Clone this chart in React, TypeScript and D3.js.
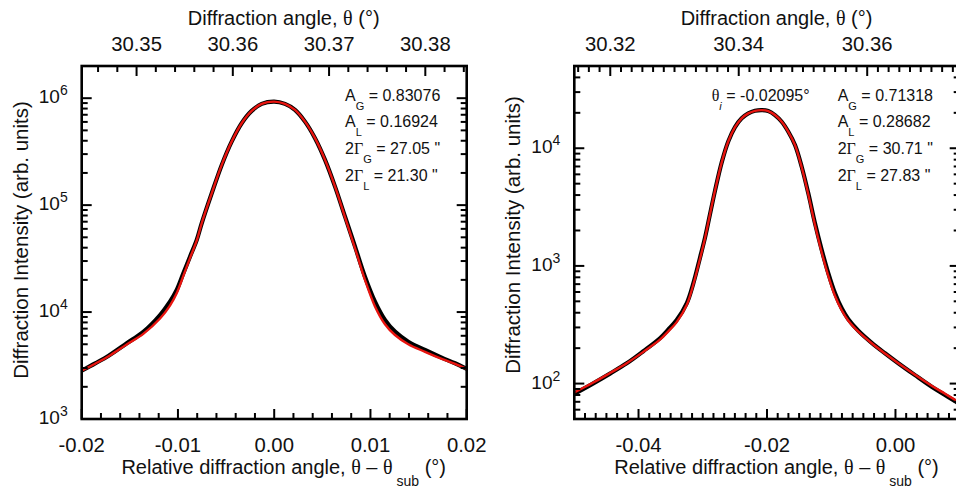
import React from 'react';
import * as d3 from 'd3';

// ---------- data ----------
const leftRel = [-0.02, -0.0186, -0.0172, -0.01532, -0.0136, -0.01186, -0.01083, -0.01013, -0.00944, -0.00875, -0.00805, -0.00753, -0.00649, -0.00545, -0.00442, -0.00338, -0.00234, -0.0013, 0.0, 0.00112, 0.00216, 0.0032, 0.00424, 0.00528, 0.00632, 0.00736, 0.0084, 0.00943, 0.01047, 0.01151, 0.01255, 0.01393, 0.01567, 0.0174, 0.01879, 0.02];
const leftMeasured = [2830, 3311, 3908, 5105, 6531, 9386, 12500, 16080, 23030, 32950, 47200, 67700, 129000, 237700, 392600, 583400, 760600, 884300, 929000, 884300, 777800, 604000, 422700, 264900, 149000, 78000, 40900, 21430, 12510, 8433, 6560, 5285, 4419, 3747, 3319, 2937];
const leftFit = [2830, 3290, 3860, 4980, 6250, 8700, 11500, 15000, 21800, 32000, 46500, 67700, 129000, 237700, 392600, 583400, 760600, 884300, 929000, 884300, 777800, 604000, 422700, 264900, 149000, 77000, 39500, 20000, 11300, 7700, 6100, 5000, 4250, 3650, 3280, 2937];

const rightRel = [-0.05, -0.04704, -0.04444, -0.04184, -0.03925, -0.03666, -0.03536, -0.03406, -0.0325, -0.03147, -0.03043, -0.02965, -0.02914, -0.02809, -0.02705, -0.02602, -0.02498, -0.02394, -0.02291, -0.02187, -0.02083, -0.0198, -0.01876, -0.01771, -0.01668, -0.01564, -0.0146, -0.01357, -0.01253, -0.01148, -0.01045, -0.00941, -0.00837, -0.00734, -0.00578, -0.0037, -0.00163, 0.00044, 0.00304, 0.00564, 0.00771, 0.00943, 0.01];
const rightMeasured = [81.8, 100.5, 121.6, 148.6, 188.4, 242.7, 288, 346.7, 480.8, 711, 1175, 1740, 2344, 4365, 7586, 11480, 15140, 17950, 19770, 20800, 21090, 20700, 19140, 16790, 13800, 10640, 6970, 4140, 2300, 1364, 865, 585, 436, 352, 281, 222, 181, 149, 118, 94, 80, 70, 67];
const rightFit = [84, 102, 123, 149, 186, 236, 278, 333, 465, 695, 1150, 1720, 2344, 4365, 7586, 11480, 15140, 17950, 19770, 20800, 21090, 20700, 19140, 16790, 13800, 10640, 6900, 4050, 2230, 1300, 820, 555, 420, 342, 276, 220, 180, 149, 119, 96, 82, 72, 69];

const leftThetaSub = 30.3643;
const rightThetaSub = 30.3644;

const leftBottomLabels = [-0.02, -0.01, 0.0, 0.01, 0.02];
const leftTopLabels = [30.35, 30.36, 30.37, 30.38];
const rightBottomLabels = [-0.04, -0.02, 0.0];
const rightTopLabels = [30.32, 30.34, 30.36];
const leftYExponents = [3, 4, 5, 6];
const rightYExponents = [2, 3, 4];

const leftNotes = [
  { pre: 'A', sub: 'G', post: ' = 0.83076', gamma: false },
  { pre: 'A', sub: 'L', post: ' = 0.16924', gamma: false },
  { pre: '2', sub: 'G', post: ' = 27.05 "', gamma: true },
  { pre: '2', sub: 'L', post: ' = 21.30 "', gamma: true },
];
const rightNotes = [
  { pre: 'A', sub: 'G', post: ' = 0.71318', gamma: false },
  { pre: 'A', sub: 'L', post: ' = 0.28682', gamma: false },
  { pre: '2', sub: 'G', post: ' = 30.71 "', gamma: true },
  { pre: '2', sub: 'L', post: ' = 27.83 "', gamma: true },
];
const rightPeakText = '= -0.02095°';

const SANS = '"Liberation Sans", Arial, sans-serif';
const SERIF = '"Liberation Serif", "Times New Roman", serif';

function linTicks(d0: number, d1: number, step: number) {
  const out: number[] = [];
  const i0 = Math.ceil(d0 / step - 1e-6);
  const i1 = Math.floor(d1 / step + 1e-6);
  for (let i = i0; i <= i1; i++) out.push(i * step);
  return out;
}

function logTicks(d0: number, d1: number) {
  const out: { v: number; major: boolean }[] = [];
  const e0 = Math.floor(Math.log10(d0));
  const e1 = Math.ceil(Math.log10(d1));
  for (let e = e0; e <= e1; e++) {
    for (let m = 1; m <= 9; m++) {
      const v = m * Math.pow(10, e);
      if (v >= d0 * 0.999 && v <= d1 * 1.001) out.push({ v, major: m === 1 });
    }
  }
  return out;
}

type PanelProps = {
  id: string;
  x0: number; x1: number; y0: number; y1: number;
  relDomain: [number, number];
  yDomain: [number, number];
  thetaSub: number;
  majorStep: number;
  minorPerMajor: number;
  bottomLabels: number[];
  topLabels: number[];
  yExponents: number[];
  rel: number[];
  measured: number[];
  fit: number[];
  notes: { pre: string; sub: string; post: string; gamma: boolean }[];
  notesX: number;
  peakText?: string;
  peakX?: number;
  yLabelX: number;
  yLabelY: number;
};

function Panel(p: PanelProps) {
  const x = d3.scaleLinear().domain(p.relDomain).range([p.x0, p.x1]);
  const xt = d3.scaleLinear().domain([p.relDomain[0] + p.thetaSub, p.relDomain[1] + p.thetaSub]).range([p.x0, p.x1]);
  const y = d3.scaleLog().domain(p.yDomain).range([p.y1, p.y0]);
  const minorStep = p.majorStep / p.minorPerMajor;
  const MAJ = 10, MIN = 6;

  const bottomTicks = linTicks(p.relDomain[0], p.relDomain[1], minorStep).map((v) => ({
    v, major: Math.abs(v / p.majorStep - Math.round(v / p.majorStep)) < 1e-4,
  }));
  const td = xt.domain();
  const topTicks = linTicks(td[0], td[1], minorStep).map((v) => ({
    v, major: Math.abs(v / p.majorStep - Math.round(v / p.majorStep)) < 1e-4,
  }));
  const yTicks = logTicks(p.yDomain[0], p.yDomain[1]);

  const line = d3.line<[number, number]>()
    .x((d) => x(d[0]))
    .y((d) => y(d[1]))
    .curve(d3.curveCatmullRom.alpha(0.5));
  const measPts = p.rel.map((r, i) => [r, p.measured[i]] as [number, number]);
  const fitPts = p.rel.map((r, i) => [r, p.fit[i]] as [number, number]);
  const cx = (p.x0 + p.x1) / 2 + 9.5;

  return (
    <g>
      <defs>
        <clipPath id={p.id}>
          <rect x={p.x0} y={p.y0} width={p.x1 - p.x0} height={p.y1 - p.y0} />
        </clipPath>
      </defs>
      <g clipPath={`url(#${p.id})`}>
        <path d={line(measPts) || ''} fill="none" stroke="#000" strokeWidth={4.2} strokeLinejoin="round" />
        <path d={line(fitPts) || ''} fill="none" stroke="#e8140f" strokeWidth={2.4} strokeLinejoin="round" />
      </g>
      <g stroke="#000" strokeWidth={2}>
        {bottomTicks.map((t, i) => (
          <line key={'b' + i} x1={x(t.v)} x2={x(t.v)} y1={p.y1} y2={p.y1 - (t.major ? MAJ : MIN)} />
        ))}
        {topTicks.map((t, i) => (
          <line key={'t' + i} x1={xt(t.v)} x2={xt(t.v)} y1={p.y0} y2={p.y0 + (t.major ? MAJ : MIN)} />
        ))}
        {yTicks.map((t, i) => (
          <g key={'y' + i}>
            <line x1={p.x0} x2={p.x0 + (t.major ? MAJ : MIN)} y1={y(t.v)} y2={y(t.v)} />
            <line x1={p.x1} x2={p.x1 - (t.major ? MAJ : MIN)} y1={y(t.v)} y2={y(t.v)} />
          </g>
        ))}
      </g>
      <rect x={p.x0} y={p.y0} width={p.x1 - p.x0} height={p.y1 - p.y0} fill="none" stroke="#000" strokeWidth={2.6} />
      <g fontFamily={SANS} fontSize={20.3} fill="#111">
        {p.bottomLabels.map((v, i) => (
          <text key={'bl' + i} x={x(v)} y={452} textAnchor="middle">{v.toFixed(2)}</text>
        ))}
        {p.topLabels.map((v, i) => (
          <text key={'tl' + i} x={xt(v)} y={50.5} textAnchor="middle">{v.toFixed(2)}</text>
        ))}
        {p.yExponents.map((e, i) => (
          <text key={'yl' + i} x={p.x0 - 14} y={y(Math.pow(10, e)) + 5} textAnchor="end" fontSize={19}>
            10<tspan dy={-8} fontSize={14}>{e}</tspan>
          </text>
        ))}
      </g>
      <text x={cx} y={25} textAnchor="middle" fontFamily={SANS} fontSize={20} fill="#111">
        Diffraction angle, <tspan fontFamily={SERIF}>θ</tspan> (°)
      </text>
      <text x={cx} y={474} textAnchor="middle" fontFamily={SANS} fontSize={20} fill="#111">
        Relative diffraction angle, <tspan fontFamily={SERIF}>θ</tspan> – <tspan fontFamily={SERIF}>θ</tspan>
        <tspan dy={12} fontSize={14}> sub</tspan>
        <tspan dy={-12}> (°)</tspan>
      </text>
      <text transform={`translate(${p.yLabelX},${p.yLabelY}) rotate(-90)`} textAnchor="middle" fontFamily={SANS} fontSize={20.5} fill="#111">
        Diffraction Intensity (arb. units)
      </text>
      <g fontFamily={SANS} fontSize={16} fill="#111">
        {p.notes.map((n, i) => (
          <text key={'n' + i} x={p.notesX} y={100.5 + i * 26.8}>
            {n.pre}
            {n.gamma ? <tspan fontFamily={SERIF}>Γ</tspan> : null}
            <tspan dy={9} fontSize={11}>{n.sub}</tspan>
            <tspan dy={-9}>{n.post}</tspan>
          </text>
        ))}
        {p.peakText ? (
          <text x={p.peakX} y={100.5}>
            <tspan fontFamily={SERIF}>θ</tspan>
            <tspan dy={9} fontSize={11} fontStyle="italic">i</tspan>
            <tspan dy={-9}> {p.peakText}</tspan>
          </text>
        ) : null}
      </g>
    </g>
  );
}

export default function App() {
  return (
    <svg width={956} height={491} style={{ position: 'absolute', left: 0, top: 0, background: '#fff' }}>
      <rect x={0} y={0} width={956} height={491} fill="#fff" />
      <Panel
        id="clipL"
        x0={81.7} x1={466.7} y0={66} y1={419}
        relDomain={[-0.02, 0.02]}
        yDomain={[1e3, 2e6]}
        thetaSub={leftThetaSub}
        majorStep={0.01}
        minorPerMajor={5}
        bottomLabels={leftBottomLabels}
        topLabels={leftTopLabels}
        yExponents={leftYExponents}
        rel={leftRel}
        measured={leftMeasured}
        fit={leftFit}
        notes={leftNotes}
        notesX={345}
        yLabelX={28}
        yLabelY={240}
      />
      <Panel
        id="clipR"
        x0={574.3} x1={959.7} y0={66} y1={419}
        relDomain={[-0.05, 0.01]}
        yDomain={[50, 5e4]}
        thetaSub={rightThetaSub}
        majorStep={0.02}
        minorPerMajor={12}
        bottomLabels={rightBottomLabels}
        topLabels={rightTopLabels}
        yExponents={rightYExponents}
        rel={rightRel}
        measured={rightMeasured}
        fit={rightFit}
        notes={rightNotes}
        notesX={837.7}
        peakText={rightPeakText}
        peakX={711.7}
        yLabelX={520}
        yLabelY={235}
      />
    </svg>
  );
}
